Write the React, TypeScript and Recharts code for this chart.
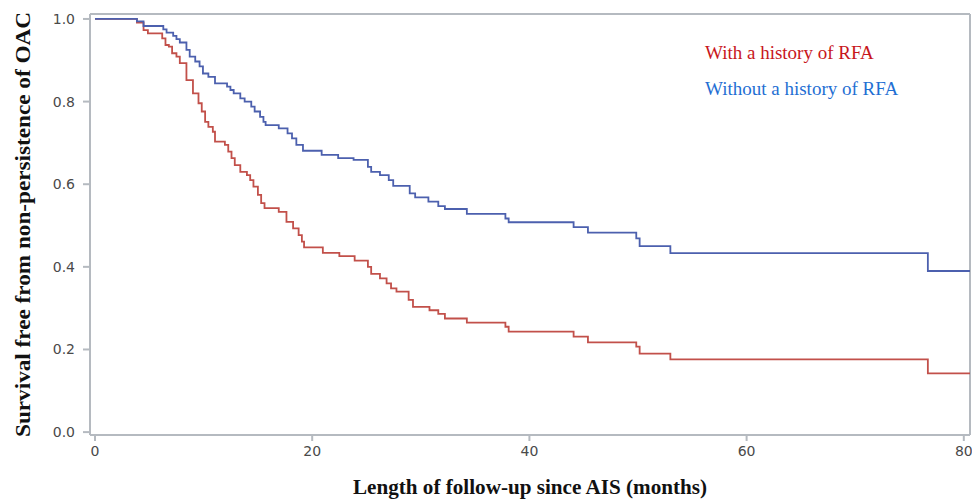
// Kaplan-Meier style survival curves: persistence of OAC with / without a history of RFA
import { Line, LineChart, ReferenceLine, XAxis, YAxis } from "recharts";

const redTimes = [
  0, 3.86, 4.47, 4.87, 6.19, 6.49, 6.8, 7.1, 7.5, 7.81, 8.42, 9.02, 9.53, 9.83, 10.14, 10.44, 10.85,
  11.05, 11.96, 12.27, 12.57, 12.87, 13.38, 13.99, 14.29, 14.59, 15.0, 15.3, 15.61, 16.92, 17.63,
  18.24, 18.75, 19.05, 19.25, 20.98, 22.5, 23.91, 25.13, 25.43, 26.24, 26.85, 27.26, 27.76, 28.88,
  29.28, 30.8, 31.61, 32.22, 34.24, 37.79, 38.09, 44.07, 45.39, 49.84, 50.15, 52.98, 76.69, 81,
];
const redSurv = [
  1.0, 0.991, 0.973, 0.965, 0.953, 0.937, 0.933, 0.917, 0.909, 0.893, 0.852, 0.82, 0.796, 0.776,
  0.751, 0.739, 0.727, 0.703, 0.695, 0.679, 0.663, 0.646, 0.63, 0.622, 0.61, 0.594, 0.574, 0.554,
  0.542, 0.533, 0.509, 0.493, 0.477, 0.461, 0.447, 0.434, 0.426, 0.415, 0.4, 0.383, 0.372, 0.36,
  0.348, 0.34, 0.32, 0.303, 0.295, 0.286, 0.275, 0.265, 0.255, 0.243, 0.231, 0.217, 0.207, 0.19,
  0.176, 0.142, 0.142,
];

const blueTimes = [
  0, 3.86, 4.47, 6.29, 6.59, 7.2, 7.5, 7.81, 8.42, 8.72, 9.23, 9.63, 9.94, 10.44, 11.05, 12.16,
  12.47, 12.77, 13.38, 13.78, 14.39, 14.7, 15.2, 15.51, 15.71, 16.92, 17.73, 18.14, 18.54, 19.15,
  20.87, 22.39, 23.81, 25.13, 25.43, 26.24, 27.05, 27.46, 28.98, 29.48, 30.7, 31.61, 32.22, 34.24,
  37.79, 38.09, 44.07, 45.39, 49.84, 50.15, 52.98, 76.69, 81,
];
const blueSurv = [
  1.0, 0.994, 0.983, 0.975, 0.967, 0.959, 0.951, 0.943, 0.925, 0.909, 0.897, 0.885, 0.868, 0.86,
  0.844, 0.836, 0.828, 0.82, 0.808, 0.8, 0.788, 0.776, 0.763, 0.751, 0.743, 0.735, 0.723, 0.711,
  0.695, 0.681, 0.671, 0.663, 0.659, 0.642, 0.63, 0.622, 0.61, 0.596, 0.578, 0.568, 0.558, 0.547,
  0.54, 0.528, 0.517, 0.508, 0.496, 0.483, 0.469, 0.45, 0.433, 0.39, 0.39,
];

const xTicks = [0, 20, 40, 60, 80];
const yTicks = [0, 0.2, 0.4, 0.6, 0.8, 1.0];
const legendLabels = ["With a history of RFA", "Without a history of RFA"];
const xTitle = "Length of follow-up since AIS (months)";
const yTitle = "Survival free from non-persistence of OAC";

const X_MIN = -0.46;
const X_MAX = 80.57;
const Y_MIN = -0.007;
const Y_MAX = 1.012;

const RED = "#c2504a";
const BLUE = "#4c60ae";
const FRAME = "#b5bac0";
const TICK_TEXT = "#4a4a4a";
const SANS = "'DejaVu Sans', Verdana, sans-serif";
const SERIF = "'Liberation Serif', 'Times New Roman', serif";

const redData = redTimes.map((t, i) => ({ t, s: redSurv[i] }));
const blueData = blueTimes.map((t, i) => ({ t, s: blueSurv[i] }));

export default function App() {
  return (
    <div style={{ position: "absolute", left: 0, top: 0, width: 972, height: 499, overflow: "hidden", background: "#fff" }}>
      <LineChart width={972} height={499} margin={{ top: 14, right: 2, bottom: 0, left: 0 }}>
        <XAxis
          dataKey="t"
          type="number"
          domain={[X_MIN, X_MAX]}
          allowDataOverflow
          ticks={xTicks}
          interval={0}
          height={64}
          stroke={FRAME}
          strokeWidth={2}
          tickSize={6}
          tickMargin={5}
          tick={{ fill: TICK_TEXT, fontSize: 14, fontFamily: SANS }}
        />
        <YAxis
          type="number"
          domain={[Y_MIN, Y_MAX]}
          allowDataOverflow
          ticks={yTicks}
          interval={0}
          width={90}
          stroke={FRAME}
          strokeWidth={2}
          tickSize={7}
          tickMargin={8}
          tickFormatter={(v: number) => v.toFixed(1)}
          tick={{ fill: TICK_TEXT, fontSize: 14, fontFamily: SANS }}
        />
        <ReferenceLine x={X_MAX} stroke={FRAME} strokeWidth={2} />
        <ReferenceLine y={Y_MAX} stroke={FRAME} strokeWidth={2} />
        <Line
          data={redData}
          dataKey="s"
          type="stepAfter"
          stroke={RED}
          strokeWidth={1.8}
          dot={false}
          isAnimationActive={false}
        />
        <Line
          data={blueData}
          dataKey="s"
          type="stepAfter"
          stroke={BLUE}
          strokeWidth={1.8}
          dot={false}
          isAnimationActive={false}
        />
      </LineChart>
      <svg width={972} height={499} style={{ position: "absolute", left: 0, top: 0, pointerEvents: "none" }}>
        <text x={705} y={59} fill="#c8171c" fontSize={19} fontFamily={SERIF}>
          {legendLabels[0]}
        </text>
        <text x={705} y={95} fill="#1f6fd3" fontSize={19} fontFamily={SERIF}>
          {legendLabels[1]}
        </text>
        <text
          x={353}
          y={494}
          fontSize={22}
          fontWeight="bold"
          fontFamily={SERIF}
          fill="#111"
          textLength={354}
          lengthAdjust="spacingAndGlyphs"
        >
          {xTitle}
        </text>
        <text
          transform="translate(30, 437) rotate(-90)"
          fontSize={22}
          fontWeight="bold"
          fontFamily={SERIF}
          fill="#111"
          textLength={425}
          lengthAdjust="spacingAndGlyphs"
        >
          {yTitle}
        </text>
      </svg>
    </div>
  );
}
